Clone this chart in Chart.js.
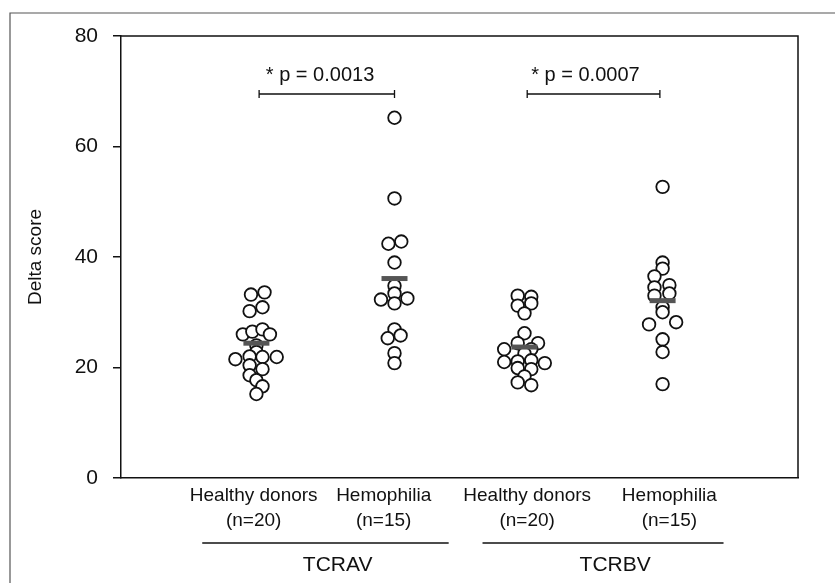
<!DOCTYPE html>
<html>
<head>
<meta charset="utf-8">
<script src="https://cdn.jsdelivr.net/npm/chart.js@4.4.1/dist/chart.umd.min.js"></script>
<style>
  html, body { margin: 0; padding: 0; background: #fff; }
  #wrap { width: 835px; height: 583px; }
</style>
</head>
<body>
<div id="wrap"><canvas id="chart" width="835" height="583"></canvas></div>
<script>
  // ===== Data =====
  const categoryLabels = [
    ["Healthy donors", "(n=20)"], ["Hemophilia", "(n=15)"],
    ["Healthy donors", "(n=20)"], ["Hemophilia", "(n=15)"]
  ];
  const categoryPos = [1, 2.02, 2.98, 4];      // where each cluster sits on the x scale
  const labelPos = [0.98, 1.94, 3.0, 4.05];     // where each category label sits
  const yTicks = [0, 20, 40, 60, 80];

  // Delta scores
  const tcravHealthy = [33.2, 33.6, 30.2, 30.9, 26.0, 26.5, 26.9, 26.0, 24.0, 22.8, 21.5, 22.0, 21.9, 21.9, 20.4, 19.7, 18.6, 17.7, 16.6, 15.2];
  const tcravHemo = [65.2, 50.6, 42.4, 42.8, 39.0, 34.8, 33.4, 32.3, 31.6, 32.5, 26.9, 25.3, 25.8, 22.6, 20.8];
  const tcrbvHealthy = [33.0, 32.8, 31.2, 31.6, 29.8, 26.2, 24.4, 24.4, 23.3, 23.3, 22.5, 21.0, 21.1, 21.3, 20.8, 19.9, 19.7, 18.4, 17.3, 16.8];
  const tcrbvHemo = [52.7, 39.0, 37.9, 36.5, 34.5, 34.9, 33.4, 33.0, 30.9, 30.0, 27.8, 28.2, 25.1, 22.8, 17.0];

  // sideways spread of the dots inside each cluster (x units)
  const tcravHealthyJitter = [-0.04, 0.06, -0.05, 0.045, -0.10, -0.03, 0.045, 0.10, 0, 0, -0.155, -0.05, 0.045, 0.15, -0.05, 0.045, -0.05, 0, 0.045, 0];
  const tcravHemoJitter = [0, 0, -0.045, 0.05, 0, 0, 0, -0.10, 0, 0.095, 0, -0.05, 0.045, 0, 0];
  const tcrbvHealthyJitter = [-0.05, 0.05, -0.05, 0.05, 0, 0, -0.05, 0.10, -0.15, 0.05, 0, -0.15, -0.05, 0.05, 0.15, -0.05, 0.05, 0, -0.05, 0.05];
  const tcrbvHemoJitter = [0, 0, 0, -0.06, -0.06, 0.05, 0.05, -0.06, 0, 0, -0.10, 0.10, 0, 0, 0];

  const groupMeans = [24.4, 36.1, 23.7, 32.1];

  // significance brackets
  const pLabels = ["* p = 0.0013", "* p = 0.0007"];
  const pSpans = [[1.02, 2.02], [3.0, 3.98]];
  const pLabelPos = [1.47, 3.43];
  const pBracketY = 69.5;
  const pLabelY = 72.8;

  // receptor groups under the axis
  const groupNames = ["TCRAV", "TCRBV"];
  const groupSpans = [[0.6, 2.42], [2.67, 4.45]];
  const groupNamePos = [1.6, 3.65];

  // ===== Helpers =====
  const FONT = "'Liberation Sans', Arial, Helvetica, sans-serif";
  Chart.defaults.font.family = FONT;
  Chart.defaults.color = '#111';

  const toPoints = (values, jitter, pos) => values.map((v, i) => ({ x: pos + jitter[i], y: v }));

  const clusters = [
    toPoints(tcravHealthy, tcravHealthyJitter, categoryPos[0]),
    toPoints(tcravHemo, tcravHemoJitter, categoryPos[1]),
    toPoints(tcrbvHealthy, tcrbvHealthyJitter, categoryPos[2]),
    toPoints(tcrbvHemo, tcrbvHemoJitter, categoryPos[3])
  ];

  const dotStyle = {
    pointRadius: 6.3,
    pointBorderWidth: 1.8,
    pointBackgroundColor: '#fff',
    pointBorderColor: '#111'
  };

  // ===== Extra drawing (frame, brackets, group names, y title) =====
  const decorations = {
    id: 'decorations',
    beforeDraw(chart) {
      const ctx = chart.ctx;
      ctx.save();
      ctx.strokeStyle = '#555';
      ctx.lineWidth = 1.2;
      ctx.beginPath();
      ctx.moveTo(10, 583);
      ctx.lineTo(10, 13);
      ctx.lineTo(835, 13);
      ctx.stroke();
      ctx.restore();
    },
    afterDraw(chart) {
      const { ctx, chartArea: area, scales: { x, y } } = chart;
      ctx.save();
      ctx.strokeStyle = '#111';
      ctx.fillStyle = '#111';

      // top and right sides of the plot box
      ctx.lineWidth = 1.5;
      ctx.beginPath();
      ctx.moveTo(area.left, area.top);
      ctx.lineTo(area.right, area.top);
      ctx.lineTo(area.right, area.bottom);
      ctx.stroke();

      // p-value brackets
      ctx.lineWidth = 1.3;
      const by = y.getPixelForValue(pBracketY);
      pSpans.forEach((span, i) => {
        const x0 = x.getPixelForValue(span[0]);
        const x1 = x.getPixelForValue(span[1]);
        ctx.beginPath();
        ctx.moveTo(x0, by); ctx.lineTo(x1, by);
        ctx.moveTo(x0, by - 4); ctx.lineTo(x0, by + 4);
        ctx.moveTo(x1, by - 4); ctx.lineTo(x1, by + 4);
        ctx.stroke();
        ctx.font = `20px ${FONT}`;
        ctx.textAlign = 'center';
        ctx.textBaseline = 'middle';
        ctx.fillText(pLabels[i], x.getPixelForValue(pLabelPos[i]), y.getPixelForValue(pLabelY));
      });

      // group lines and names below the category labels
      const lineY = area.bottom + 65;
      groupSpans.forEach((span, i) => {
        ctx.lineWidth = 1.5;
        ctx.beginPath();
        ctx.moveTo(x.getPixelForValue(span[0]), lineY);
        ctx.lineTo(x.getPixelForValue(span[1]), lineY);
        ctx.stroke();
        ctx.font = `21px ${FONT}`;
        ctx.textAlign = 'center';
        ctx.textBaseline = 'middle';
        ctx.fillText(groupNames[i], x.getPixelForValue(groupNamePos[i]), area.bottom + 87);
      });

      // y axis title
      ctx.translate(36, y.getPixelForValue(40));
      ctx.rotate(-Math.PI / 2);
      ctx.font = `19px ${FONT}`;
      ctx.textAlign = 'center';
      ctx.textBaseline = 'middle';
      ctx.fillText('Delta score', 0, 0);
      ctx.restore();
    }
  };

  // ===== Chart =====
  new Chart(document.getElementById('chart'), {
    type: 'scatter',
    data: {
      datasets: [
        {
          label: 'Mean',
          data: groupMeans.map((m, i) => ({ x: categoryPos[i], y: m })),
          pointStyle: 'line',
          pointRadius: 13,
          pointBorderWidth: 5,
          pointBorderColor: '#555'
        },
        ...clusters.map((pts, i) => ({ label: `group ${i + 1}`, data: pts, ...dotStyle }))
      ]
    },
    options: {
      responsive: false,
      animation: false,
      layout: { padding: { left: 0, right: 37, top: 36, bottom: 0 } },
      plugins: { legend: { display: false }, tooltip: { enabled: false } },
      scales: {
        x: {
          type: 'linear',
          min: 0,
          max: 5,
          afterBuildTicks: (scale) => { scale.ticks = labelPos.map(v => ({ value: v })); },
          afterFit: (scale) => { scale.height = 105; },
          grid: { display: false, drawTicks: false },
          border: { display: true, color: '#111', width: 1.5 },
          ticks: {
            autoSkip: false,
            maxRotation: 0,
            padding: 5,
            font: { size: 19, lineHeight: 1.32 },
            callback: (value, index) => categoryLabels[index]
          }
        },
        y: {
          min: 0,
          max: 80,
          afterBuildTicks: (scale) => { scale.ticks = yTicks.map(v => ({ value: v })); },
          afterFit: (scale) => { scale.width = 121; },
          grid: { drawOnChartArea: false, color: '#111', lineWidth: 1.5, tickLength: 8 },
          border: { display: true, color: '#111', width: 1.5 },
          ticks: { padding: 15, font: { size: 21 } }
        }
      }
    },
    plugins: [decorations]
  });
</script>
</body>
</html>
